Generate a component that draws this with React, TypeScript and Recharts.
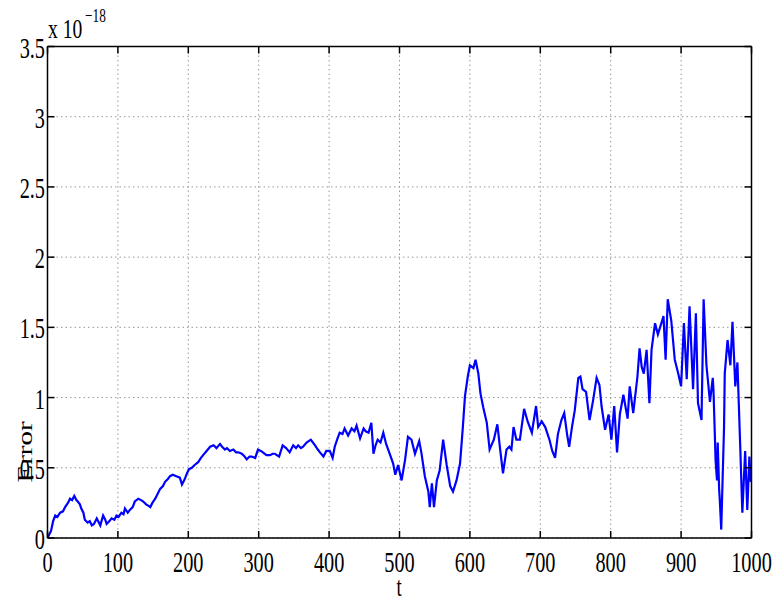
import { LineChart, Line, XAxis, YAxis, CartesianGrid } from 'recharts';

const T = [
  0, 3, 5, 8, 11, 14, 18, 22, 25, 29, 32, 35, 38, 41, 43, 46, 48, 51, 53, 57, 60, 63, 66, 70, 72, 75, 79, 82, 84, 88,
  91, 95, 98, 101, 105, 108, 110, 114, 117, 121, 124, 129, 133, 136, 140, 143, 146, 149, 153, 156, 160, 164, 167, 171,
  174, 178, 183, 188, 191, 195, 198, 201, 205, 209, 214, 218, 221, 226, 231, 236, 240, 245, 248, 252, 255, 259, 264,
  268, 271, 276, 280, 283, 287, 290, 295, 299, 303, 306, 311, 316, 320, 323, 329, 334, 339, 344, 349, 353, 356, 360,
  363, 368, 374, 377, 380, 384, 387, 392, 396, 401, 405, 408, 412, 415, 419, 422, 427, 432, 436, 439, 444, 449, 452,
  456, 460, 463, 466, 469, 473, 477, 481, 486, 491, 494, 498, 503, 508, 512, 517, 522, 528, 531, 536, 541, 543, 546,
  549, 553, 557, 562, 567, 572, 576, 581, 586, 590, 593, 597, 600, 605, 608, 612, 615, 619, 624, 628, 634, 639, 643,
  647, 652, 656, 659, 662, 666, 671, 677, 682, 688, 694, 697, 702, 707, 713, 717, 721, 725, 730, 734, 738, 741, 745,
  749, 754, 757, 760, 765, 770, 775, 780, 784, 787, 792, 797, 801, 805, 809, 813, 818, 824, 827, 832, 838, 841, 844,
  847, 851, 855, 858, 863, 867, 872, 875, 878, 881, 886, 891, 896, 900, 904, 908, 912, 917, 921, 924, 929, 932, 936,
  941, 945, 946, 948, 949, 951, 952, 954, 955, 957, 961, 962, 966, 970, 973, 977, 980, 984, 987, 991, 994, 997, 999,
  1000,
];

const V = [
  0, 0.03, 0.05, 0.12, 0.16, 0.15, 0.18, 0.19, 0.22, 0.25, 0.28, 0.27, 0.3, 0.27, 0.26, 0.24, 0.21, 0.18, 0.13, 0.11,
  0.12, 0.09, 0.1, 0.14, 0.12, 0.09, 0.16, 0.13, 0.1, 0.12, 0.14, 0.13, 0.16, 0.15, 0.18, 0.17, 0.21, 0.18, 0.2, 0.22,
  0.26, 0.28, 0.27, 0.26, 0.24, 0.23, 0.22, 0.25, 0.28, 0.31, 0.35, 0.37, 0.4, 0.42, 0.44, 0.45, 0.44, 0.43, 0.38, 0.42,
  0.46, 0.49, 0.5, 0.52, 0.54, 0.57, 0.59, 0.62, 0.65, 0.66, 0.64, 0.67, 0.65, 0.63, 0.64, 0.62, 0.63, 0.61, 0.61, 0.6,
  0.58, 0.56, 0.58, 0.58, 0.57, 0.63, 0.62, 0.61, 0.59, 0.59, 0.6, 0.6, 0.58, 0.66, 0.64, 0.61, 0.66, 0.64, 0.66, 0.64,
  0.65, 0.68, 0.7, 0.68, 0.66, 0.63, 0.61, 0.58, 0.62, 0.62, 0.57, 0.65, 0.71, 0.75, 0.74, 0.78, 0.73, 0.78, 0.76, 0.8,
  0.71, 0.78, 0.76, 0.75, 0.82, 0.6, 0.66, 0.7, 0.68, 0.75, 0.67, 0.6, 0.53, 0.45, 0.52, 0.41, 0.56, 0.72, 0.7, 0.6,
  0.69, 0.61, 0.44, 0.33, 0.22, 0.39, 0.22, 0.41, 0.48, 0.7, 0.52, 0.37, 0.33, 0.41, 0.53, 0.79, 1.01, 1.15, 1.23, 1.21,
  1.27, 1.17, 1.03, 0.93, 0.82, 0.63, 0.7, 0.81, 0.63, 0.46, 0.63, 0.65, 0.63, 0.79, 0.7, 0.7, 0.92, 0.83, 0.75, 0.94,
  0.79, 0.83, 0.79, 0.7, 0.62, 0.57, 0.74, 0.84, 0.89, 0.74, 0.65, 0.79, 0.91, 1.14, 1.15, 1.06, 1.04, 0.84, 0.98, 1.14,
  1.09, 0.94, 0.77, 0.88, 0.7, 0.94, 0.61, 0.88, 1.02, 0.85, 1.08, 0.89, 1.15, 1.35, 1.22, 1.17, 1.34, 0.96, 1.34, 1.53,
  1.45, 1.53, 1.58, 1.27, 1.7, 1.55, 1.27, 1.17, 1.08, 1.53, 1.13, 1.65, 1.06, 1.6, 0.96, 0.84, 1.7, 1.23, 0.97, 1.14,
  1.05, 0.72, 0.55, 0.41, 0.68, 0.35, 0.27, 0.06, 0.79, 1.17, 1.41, 1.23, 1.54, 1.08, 1.25, 0.65, 0.18, 0.62, 0.2,
  0.58, 0.4, 0.5,
];

const xTicks = [0, 100, 200, 300, 400, 500, 600, 700, 800, 900, 1000];
const yTicks = [0, 0.5, 1, 1.5, 2, 2.5, 3, 3.5];

const data = T.map((t, i) => ({ t, v: V[i] }));

const FONT = '"Liberation Serif", "Times New Roman", serif';

const XTick = ({ x, y, payload }: any) => (
  <text
    transform={`translate(${x},${y + 34}) scale(0.7,1)`}
    textAnchor="middle"
    fontFamily={FONT}
    fontSize={29}
    fill="#000"
  >
    {payload.value}
  </text>
);

const YTick = ({ x, y, payload }: any) => (
  <text
    transform={`translate(${x},${y + 11}) scale(0.7,1)`}
    textAnchor="end"
    fontFamily={FONT}
    fontSize={29}
    fill="#000"
  >
    {payload.value}
  </text>
);

const NoTick = () => <g />;

export default function App() {
  return (
    <div style={{ position: 'absolute', left: 0, top: 0, width: 778, height: 603, background: '#fff' }}>
      <LineChart
        width={778}
        height={603}
        data={data}
        margin={{ top: 45.5, right: 25.5, left: 0, bottom: 35 }}
      >
        <CartesianGrid
          xAxisId="b"
          yAxisId="l"
          stroke="#999"
          strokeDasharray="1.5 3"
          verticalValues={xTicks}
          horizontalValues={yTicks}
        />
        <XAxis
          xAxisId="b"
          dataKey="t"
          type="number"
          domain={[0, 1000]}
          ticks={xTicks}
          interval={0}
          height={30}
          tickSize={-7}
          tickMargin={7}
          tick={XTick}
          stroke="#000"
          strokeWidth={1.5}
          allowDataOverflow
        />
        <XAxis
          xAxisId="t"
          dataKey="t"
          type="number"
          orientation="top"
          domain={[0, 1000]}
          ticks={xTicks}
          interval={0}
          height={1}
          tickSize={-7}
          tick={NoTick}
          stroke="#000"
          strokeWidth={1.5}
          allowDataOverflow
        />
        <YAxis
          yAxisId="l"
          type="number"
          domain={[0, 3.5]}
          ticks={yTicks}
          interval={0}
          width={47.5}
          tickSize={-7}
          tickMargin={9.5}
          tick={YTick}
          stroke="#000"
          strokeWidth={1.5}
          allowDataOverflow
        />
        <YAxis
          yAxisId="r"
          type="number"
          orientation="right"
          domain={[0, 3.5]}
          ticks={yTicks}
          interval={0}
          width={1}
          tickSize={-7}
          tick={NoTick}
          stroke="#000"
          strokeWidth={1.5}
          allowDataOverflow
        />
        <Line
          xAxisId="t"
          yAxisId="r"
          dataKey="v"
          stroke="none"
          dot={false}
          isAnimationActive={false}
        />
        <Line
          xAxisId="b"
          yAxisId="l"
          type="linear"
          dataKey="v"
          stroke="#0000ff"
          strokeWidth={2.2}
          dot={false}
          isAnimationActive={false}
        />
        <text transform="translate(48,38) scale(0.7,1)" fontFamily={FONT} fontSize={28} fill="#000">
          x 10
        </text>
        <text transform="translate(85,22) scale(0.7,1)" fontFamily={FONT} fontSize={19} fill="#000">
          −18
        </text>
        <text
          transform="translate(32,452) scale(0.7,1) rotate(-90)"
          textAnchor="middle"
          fontFamily={FONT}
          fontSize={29}
          fill="#000"
        >
          Error
        </text>
        <text
          transform="translate(399,596) scale(0.7,1)"
          textAnchor="middle"
          fontFamily={FONT}
          fontSize={27}
          fill="#000"
        >
          t
        </text>
      </LineChart>
    </div>
  );
}
